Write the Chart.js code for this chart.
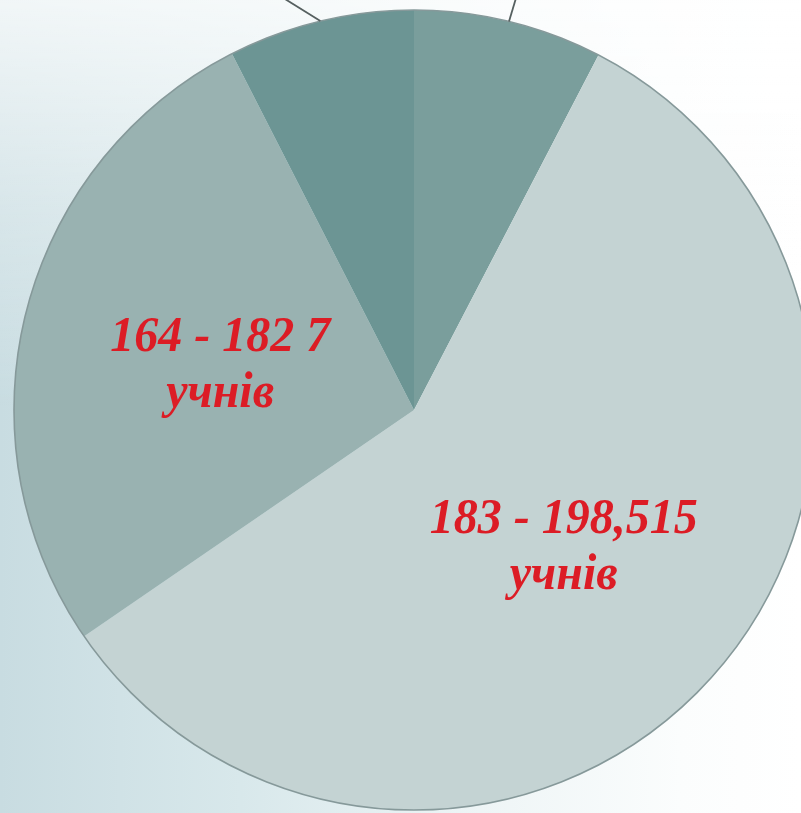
<!DOCTYPE html>
<html>
<head>
<meta charset="utf-8">
<script src="https://cdn.jsdelivr.net/npm/chart.js@4/dist/chart.umd.min.js"></script>
<style>
  html, body { margin: 0; padding: 0; width: 801px; height: 813px; overflow: hidden; }
  body {
    background:
      linear-gradient(to bottom, rgba(255,255,255,0.75) 0%, rgba(255,255,255,0.3) 25%, rgba(255,255,255,0) 50%),
      linear-gradient(to right, #c8dce1 0%, #d8e8eb 30%, #eef5f6 60%, #fbfdfd 85%, #ffffff 100%);
  }
  #wrap { position: absolute; left: 0; top: 0; width: 828px; height: 820px; }
  canvas { display: block; }
</style>
</head>
<body>
<div id="wrap"><canvas id="c" width="828" height="820" style="width:828px;height:820px"></canvas></div>
<script>
// ---- data ----
const categories = ['', '183 - 198', '164 - 182', ''];
const students = [68, 515, 241, 67];
const labelLine1 = ['', '183 - 198,515', '164 - 182 7', ''];
const labelLine2 = ['', 'учнів', 'учнів', ''];
const sliceColors = ['#7a9e9c', '#c4d3d3', '#99b2b1', '#6c9594'];

const leaderSlices = [0, 3];

const piePlugin = {
  id: 'pieDecor',
  afterDatasetsDraw(chart) {
    const ctx = chart.ctx;
    const meta = chart.getDatasetMeta(0);
    const arcs = meta.data;
    if (!arcs.length) return;
    const a0 = arcs[0];
    // outer outline
    ctx.save();
    ctx.beginPath();
    ctx.arc(a0.x, a0.y, a0.outerRadius, 0, Math.PI * 2);
    ctx.strokeStyle = '#86999a';
    ctx.lineWidth = 1.6;
    ctx.stroke();
    ctx.restore();

    // leader lines for the outside labels (above the visible area)
    const leadOffsets = { 0: [9, -30], 3: [-48, -30] };
    leaderSlices.forEach(i => {
      const a = arcs[i];
      const mid = (a.startAngle + a.endAngle) / 2;
      const px = a.x + Math.cos(mid) * a.outerRadius;
      const py = a.y + Math.sin(mid) * a.outerRadius;
      const off = leadOffsets[i];
      ctx.save();
      ctx.beginPath();
      ctx.moveTo(px, py);
      ctx.lineTo(px + off[0], py + off[1]);
      ctx.strokeStyle = '#566060';
      ctx.lineWidth = 1.8;
      ctx.stroke();
      ctx.restore();
    });

    // inside labels
    arcs.forEach((a, i) => {
      if (!labelLine1[i]) return;
      const c = a.getCenterPoint();
      ctx.save();
      ctx.fillStyle = '#dc1c25';
      ctx.font = 'italic bold 48px "Liberation Serif", "Times New Roman", serif';
      ctx.textAlign = 'center';
      ctx.textBaseline = 'alphabetic';
      const drawLine = (t, y) => {
        ctx.save();
        ctx.translate(c.x, y);
        ctx.scale(1, 1.04);
        ctx.fillText(t, 0, 0);
        ctx.restore();
      };
      drawLine(labelLine1[i], c.y - 10);
      drawLine(labelLine2[i], c.y + 46);
      ctx.restore();
    });
  }
};

new Chart(document.getElementById('c'), {
  type: 'pie',
  data: {
    labels: categories,
    datasets: [{
      data: students,
      backgroundColor: sliceColors,
      borderWidth: 0,
      hoverOffset: 0
    }]
  },
  options: {
    responsive: false,
    animation: false,
    layout: { padding: 10 },
    plugins: {
      legend: { display: false },
      tooltip: { enabled: false }
    },
    events: []
  },
  plugins: [piePlugin]
});
</script>
</body>
</html>
